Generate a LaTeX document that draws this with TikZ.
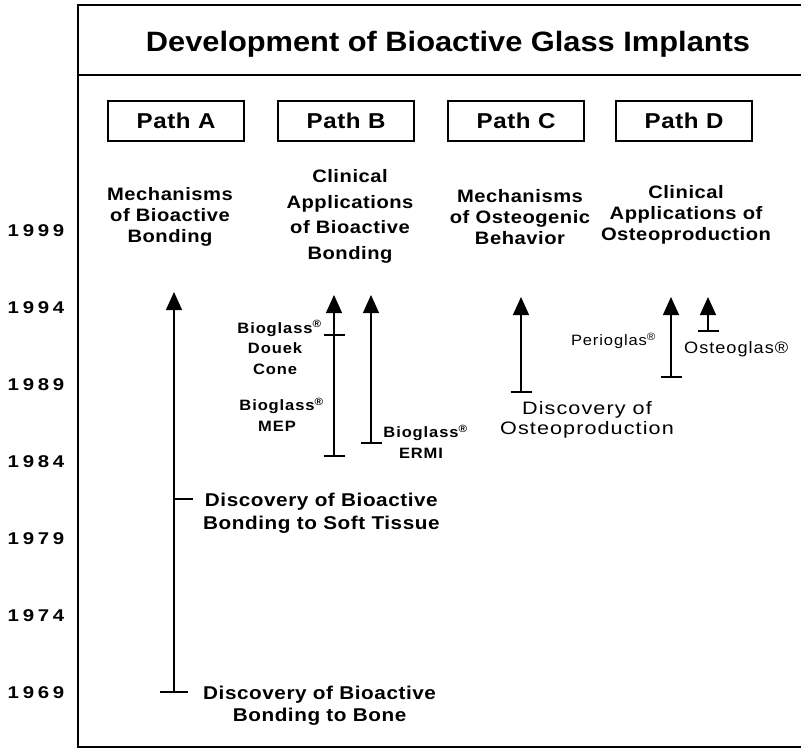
\documentclass[tikz,border=0pt]{standalone}
\usepackage{fontspec}
\setmainfont{Liberation Sans}
\usetikzlibrary{arrows.meta}
% type faces: Helvetica-like, slightly extended and tracked
\newfontfamily\ttlface[FakeStretch=1.10]{Liberation Sans}
\newfontfamily\colface[FakeStretch=1.12,LetterSpace=3]{Liberation Sans}
\newfontfamily\yrface[FakeStretch=1.2,LetterSpace=22]{Liberation Sans}
\newfontfamily\evface[FakeStretch=1.12,LetterSpace=3]{Liberation Sans}
\newfontfamily\smface[FakeStretch=1.1,LetterSpace=6]{Liberation Sans}
\newfontfamily\ltface[FakeStretch=1.2,LetterSpace=6]{Liberation Sans}
\newcommand{\regsup}{\rlap{\textsuperscript{\textregistered}}}
\tikzset{
  frame/.style={line width=1.8pt},
  heading/.style={anchor=base, inner sep=0pt, font=\ttlface\bfseries\fontsize{28}{32}\selectfont},
  pathbox/.style={draw, line width=1.1pt, minimum width=136pt, minimum height=40pt, inner sep=0pt,
    font=\colface\bfseries\fontsize{21.5}{26}\selectfont},
  column/.style={align=center, inner sep=0pt, font=\colface\bfseries\fontsize{18}{21}\selectfont},
  year/.style={anchor=base, inner sep=0pt, font=\yrface\bfseries\fontsize{17}{20}\selectfont},
  stem/.style={line width=1.3pt, -{Triangle[width=16pt,length=18pt]}},
  bar/.style={line width=1.3pt},
  event/.style={align=center, inner sep=0pt, font=\evface\bfseries\fontsize{18.5}{22.5}\selectfont},
  product/.style={align=center, inner sep=0pt, font=\smface\bfseries\fontsize{15}{20.5}\selectfont},
  note/.style={align=center, inner sep=0pt, font=\ltface\fontsize{18}{20}\selectfont},
}
\begin{document}
\begin{tikzpicture}[x=1pt, y=-1pt]
\useasboundingbox (0,0) rectangle (801,749);

% outer frame, open on the right
\coordinate (ftr) at (801,5);
\coordinate (ftl) at (78,5);
\coordinate (fbl) at (78,747);
\coordinate (fbr) at (801,747);
\coordinate (hl) at (78,75);
\coordinate (hr) at (801,75);
\draw[frame] (ftr) -- (ftl) -- (fbl) -- (fbr);
\draw[frame] (hl) -- (hr);

% heading
\node[heading] (title) at (448,52) {Development of Bioactive Glass Implants};

% path boxes
\node[pathbox] (pA) at (176,121) {Path A};
\node[pathbox] (pB) at (346,121) {Path B};
\node[pathbox] (pC) at (516,121) {Path C};
\node[pathbox] (pD) at (684,121) {Path D};

% column headings
\node[column] (cA) at (170,217) {Mechanisms\\of Bioactive\\Bonding};
\node[column, font=\colface\bfseries\fontsize{18}{25.7}\selectfont] (cB) at (350,216.3)
  {Clinical\\Applications\\of Bioactive\\Bonding};
\node[column] (cC) at (520,217) {Mechanisms\\of Osteogenic\\Behavior};
\node[column] (cD) at (686,215) {Clinical\\Applications of\\Osteoproduction};

% year scale
\node[year] (y1999) at (36,236.1) {1999};
\node[year] (y1994) at (36,313.1) {1994};
\node[year] (y1989) at (36,390.1) {1989};
\node[year] (y1984) at (36,467.1) {1984};
\node[year] (y1979) at (36,544.1) {1979};
\node[year] (y1974) at (36,621.1) {1974};
\node[year] (y1969) at (36,698.1) {1969};

% Path A
\coordinate (a0) at (174,692);
\coordinate (a1) at (174,292);
\coordinate (aSoft) at (174,499);
\coordinate (aSoftEnd) at (193,499);
\draw[stem] (a0) -- (a1);
\draw[bar] (a0) ++(-14,0) -- ++(28,0);
\draw[bar] (aSoft) -- (aSoftEnd);
\node[event, anchor=west] (soft) at (203,513.3) {Discovery of Bioactive\\Bonding to Soft Tissue};
\node[event, anchor=west] (bone) at (203,705.8) {Discovery of Bioactive\\Bonding to Bone};

% Path B
\coordinate (b0) at (334,456);
\coordinate (b1) at (334,295);
\coordinate (bCone) at (334,335);
\coordinate (c0) at (371,443);
\coordinate (c1) at (371,295);
\draw[stem] (b0) -- (b1);
\draw[bar] (b0) ++(-10.5,0) -- ++(21,0);
\draw[bar] (bCone) ++(-10.5,0) -- ++(21,0);
\draw[stem] (c0) -- (c1);
\draw[bar] (c0) ++(-10.5,0) -- ++(21,0);
\node[product] (douek) at (275,347.5) {Bioglass\regsup\\Douek\\Cone};
\node[product] (mep) at (277,414.9) {Bioglass\regsup\\MEP};
\node[product] (ermi) at (421,441.9) {Bioglass\regsup\\ERMI};

% Path C
\coordinate (d0) at (521,392);
\coordinate (d1) at (521,297);
\draw[stem] (d0) -- (d1);
\draw[bar] (d0) ++(-10.5,0) -- ++(21,0);
\node[note] (osteo) at (587,419.8) {Discovery of\\Osteoproduction};

% Path D
\coordinate (e0) at (671,377);
\coordinate (e1) at (671,297);
\coordinate (f0) at (708,331);
\coordinate (f1) at (708,297);
\draw[stem] (e0) -- (e1);
\draw[bar] (e0) ++(-10.5,0) -- ++(21,0);
\draw[stem] (f0) -- (f1);
\draw[bar] (f0) ++(-10.5,0) -- ++(21,0);
\node[product, anchor=base, font=\smface\fontsize{15}{18}\selectfont] (perio) at (609,345.4) {Perioglas\regsup};
\node[product, anchor=base west, font=\smface\fontsize{16.5}{18}\selectfont] (osteoglas) at (684,353.9) {Osteoglas\textregistered};
\end{tikzpicture}
\end{document}
